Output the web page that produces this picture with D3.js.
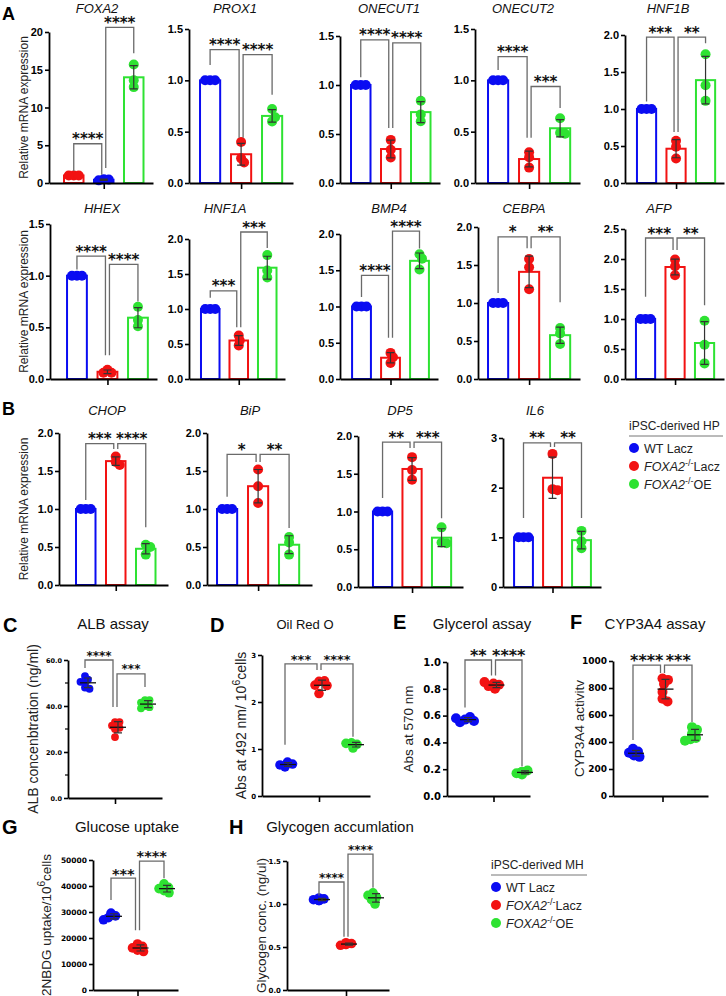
<!DOCTYPE html>
<html><head><meta charset="utf-8">
<script src="https://cdn.jsdelivr.net/npm/d3@7"></script>
<style>
body{margin:0;background:#fff;}
svg{display:block;font-family:"Liberation Sans",Arial,Helvetica,sans-serif;}
</style></head><body>
<svg id="c" width="726" height="996"></svg>
<script>
// ---------------- DATA ----------------
const groupNames = ["WT Lacz", "FOXA2-/-Lacz", "FOXA2-/-OE"];
const groupColors = ["#0a0cf2", "#f21212", "#2ee232"];

// panel A / B : relative mRNA expression, values per bar (3 replicates)
const FOXA2_expr   = [[1.0, 1.0, 1.0], [0.5, 0.45, 0.35], [15.7, 13.6, 12.7]];
const FOXA2_order  = [1, 0, 2];
const PROX1_expr   = [[1, 1, 1], [0.40, 0.24, 0.20], [0.72, 0.60, 0.64]];
const ONECUT1_expr = [[1, 1, 1], [0.44, 0.34, 0.26], [0.84, 0.70, 0.63]];
const ONECUT2_expr = [[1, 1, 1], [0.30, 0.25, 0.15], [0.63, 0.49, 0.48]];
const HNF1B_expr   = [[1, 1, 1], [0.57, 0.49, 0.33], [1.74, 1.32, 1.11]];
const HHEX_expr    = [[1, 1, 1], [0.09, 0.06, 0.06], [0.70, 0.57, 0.51]];
const HNF1A_expr   = [[1, 1, 1], [0.62, 0.48, 0.55], [1.77, 1.55, 1.45]];
const BMP4_expr    = [[1, 1, 1], [0.36, 0.30, 0.22], [1.72, 1.66, 1.51]];
const CEBPA_expr   = [[1, 1, 1], [1.58, 1.47, 1.18], [0.67, 0.60, 0.46]];
const AFP_expr     = [[1, 1, 1], [1.99, 1.88, 1.73], [0.97, 0.57, 0.26]];
const CHOP_expr    = [[1, 1, 1], [1.69, 1.62, 1.58], [0.53, 0.50, 0.40]];
const BiP_expr     = [[1, 1, 1], [1.52, 1.30, 1.08], [0.63, 0.56, 0.40]];
const DP5_expr     = [[1, 1, 1], [1.72, 1.55, 1.42], [0.79, 0.59, 0.58]];
const IL6_expr     = [[1, 1, 1], [2.68, 1.97, 1.95], [1.13, 0.92, 0.78]];

// y tick labels
const ticks_20  = [0, 5, 10, 15, 20];
const ticks_15  = [0, 0.5, 1.0, 1.5];
const ticks_20d = [0, 0.5, 1.0, 1.5, 2.0];
const ticks_25d = [0, 0.5, 1.0, 1.5, 2.0, 2.5];
const ticks_3   = [0, 1, 2, 3];

// significance: [from bar, to bar, label, bracket level, left leg end, right leg end] (data units)
const FOXA2_sig   = [[0, 1, "****", 5.2, 1.6, 1.1], [1, 2, "****", 20.6, 2.0, 17.2]];
const PROX1_sig   = [[0, 1, "****", 1.30, 1.15, 0.44], [1, 2, "****", 1.25, 0.44, 0.86]];
const ONECUT1_sig = [[0, 1, "****", 1.46, 1.08, 0.56], [1, 2, "****", 1.43, 0.56, 0.88]];
const ONECUT2_sig = [[0, 1, "****", 1.23, 1.10, 0.44], [1, 2, "***", 0.94, 0.44, 0.73]];
const HNF1B_sig   = [[0, 1, "***", 1.97, 1.10, 0.69], [1, 2, "**", 1.97, 0.69, 1.89]];
const HHEX_sig    = [[0, 1, "****", 1.19, 1.06, 0.23], [1, 2, "****", 1.11, 0.23, 0.75]];
const HNF1A_sig   = [[0, 1, "***", 1.26, 1.16, 0.74], [1, 2, "***", 2.10, 0.74, 1.87]];
const BMP4_sig    = [[0, 1, "****", 1.43, 1.13, 0.57], [1, 2, "****", 2.04, 0.57, 1.80]];
const CEBPA_sig   = [[0, 1, "*", 1.87, 1.13, 1.72], [1, 2, "**", 1.87, 1.72, 1.01]];
const AFP_sig     = [[0, 1, "***", 2.35, 1.37, 2.15], [1, 2, "**", 2.35, 2.15, 1.23]];
const CHOP_sig    = [[0, 1, "***", 1.86, 1.12, 1.79], [1, 2, "****", 1.86, 1.79, 0.76]];
const BiP_sig     = [[0, 1, "*", 1.72, 1.16, 1.62], [1, 2, "**", 1.72, 1.62, 0.75]];
const DP5_sig     = [[0, 1, "**", 1.92, 1.18, 1.84], [1, 2, "***", 1.92, 1.84, 0.91]];
const IL6_sig     = [[0, 1, "**", 2.90, 1.39, 2.82], [1, 2, "**", 2.90, 2.82, 1.39]];

// panels C-H : scatter values per group
const ALB_vals      = [[53, 51.5, 50, 48, 47.5, 50.5], [33, 33, 31.5, 30, 26.5, 30.5], [42.5, 42.5, 40, 39.5, 41.5, 39]];
const ALB_ticks     = [0, 20, 40, 60];
const ALB_minor     = [10, 30, 50];
const ALB_sig       = [[0, 1, "****", 60, 56.5, 39.6], [1, 2, "***", 54, 39.6, 48.3]];
const OilRed_vals   = [[0.62, 0.72, 0.66, 0.68], [2.44, 2.45, 2.36, 2.18, 2.35], [1.02, 1.10, 1.13, 1.12]];
const OilRed_ticks  = [0, 1, 2, 3];
const OilRed_sig    = [[0, 1, "***", 2.81, 1.09, 2.68], [1, 2, "****", 2.81, 2.68, 1.26]];
const Glycerol_vals = [[0.57, 0.59, 0.55, 0.56, 0.58], [0.84, 0.83, 0.80, 0.82, 0.85], [0.18, 0.19, 0.17, 0.18, 0.16]];
const Glycerol_ticks= [0, 0.2, 0.4, 0.6, 0.8, 1.0];
const Glycerol_sig  = [[0, 1, "**", 1.015, 0.66, 0.90], [1, 2, "****", 1.015, 0.90, 0.22]];
const CYP_vals      = [[350, 330, 320, 300, 290, 310], [870, 860, 830, 770, 720, 700], [510, 490, 460, 430, 420, 410]];
const CYP_ticks     = [0, 200, 400, 600, 800, 1000];
const CYP_sig       = [[0, 1, "****", 970, 415, 911], [1, 2, "***", 970, 911, 548]];
const Glucose_vals  = [[29600, 28500, 27800, 27000, 28800], [17700, 16800, 15300, 16200, 14800], [40800, 39500, 38200, 37400, 39000]];
const Glucose_ticks = [0, 10000, 20000, 30000, 40000, 50000];
const Glucose_sig   = [[0, 1, "***", 43000, 34600, 23000], [1, 2, "****", 49600, 23000, 43000]];
const Glycogen_vals = [[1.04, 1.06, 1.05, 1.07, 1.04], [0.53, 0.54, 0.52, 0.55, 0.53], [1.13, 1.08, 1.05, 1.00, 1.10]];
const Glycogen_ticks= [0, 0.5, 1.0, 1.5];
const Glycogen_sig  = [[0, 1, "****", 1.256, 1.10, 0.62], [1, 2, "****", 1.58, 0.62, 1.19]];

// ---------------- LAYOUT ----------------
const FONT = '"Liberation Sans", Arial, Helvetica, sans-serif';
const DJV = '"DejaVu Sans", sans-serif';
const svg = d3.select("#c");
const f1 = d3.format(".1f"), f0 = d3.format("d");

const barPanels = [
  {name:"FOXA2",   expr:FOXA2_expr,   sig:FOXA2_sig,   ticks:ticks_20,  fmt:f0, order:FOXA2_order, ax:49,  axEnd:153, r0:58.75, r1:148.75, yTop:32,  y0:183, tx:97,  ty:13},
  {name:"PROX1",   expr:PROX1_expr,   sig:PROX1_sig,   ticks:ticks_15,  fmt:f1, ax:189, axEnd:293, r0:194.6, r1:287.6, yTop:29,  y0:183, tx:235, ty:13},
  {name:"ONECUT1", expr:ONECUT1_expr, sig:ONECUT1_sig, ticks:ticks_15,  fmt:f1, ax:340, axEnd:440, r0:345.75,r1:435.75, yTop:36,  y0:183, tx:389, ty:13},
  {name:"ONECUT2", expr:ONECUT2_expr, sig:ONECUT2_sig, ticks:ticks_15,  fmt:f1, ax:475, axEnd:580, r0:482.6, r1:575.6, yTop:29,  y0:183, tx:523, ty:13},
  {name:"HNF1B",   expr:HNF1B_expr,   sig:HNF1B_sig,   ticks:ticks_20d, fmt:f1, ax:625, axEnd:724, r0:631.8, r1:720.3, yTop:35,  y0:183, tx:668, ty:13},
  {name:"HHEX",    expr:HHEX_expr,    sig:HHEX_sig,    ticks:ticks_15,  fmt:f1, ax:50,  axEnd:157, r0:61.7,  r1:153.2, yTop:224, y0:379, tx:102, ty:213},
  {name:"HNF1A",   expr:HNF1A_expr,   sig:HNF1A_sig,   ticks:ticks_20d, fmt:f1, ax:189, axEnd:285, r0:196,   r1:281.5, yTop:239, y0:379, tx:225, ty:213},
  {name:"BMP4",    expr:BMP4_expr,    sig:BMP4_sig,    ticks:ticks_20d, fmt:f1, ax:340, axEnd:438, r0:347,   r1:434,   yTop:234, y0:379, tx:389, ty:213},
  {name:"CEBPA",   expr:CEBPA_expr,   sig:CEBPA_sig,   ticks:ticks_20d, fmt:f1, ax:478, axEnd:580, r0:482.6, r1:575.6, yTop:227, y0:379, tx:524, ty:213},
  {name:"AFP",     expr:AFP_expr,     sig:AFP_sig,     ticks:ticks_25d, fmt:f1, ax:625, axEnd:724, r0:630.8, r1:719.3, yTop:229, y0:379, tx:659, ty:213},
  {name:"CHOP",    expr:CHOP_expr,    sig:CHOP_sig,    ticks:ticks_20d, fmt:f1, ax:59,  axEnd:168, r0:70.75, r1:160.75, yTop:433, y0:585, tx:107, ty:415},
  {name:"BiP",     expr:BiP_expr,     sig:BiP_sig,     ticks:ticks_20d, fmt:f1, ax:207, axEnd:312, r0:211.6, r1:304.6, yTop:433, y0:585, tx:250, ty:415},
  {name:"DP5",     expr:DP5_expr,     sig:DP5_sig,     ticks:ticks_20d, fmt:f1, ax:358, axEnd:463, r0:367.8, r1:456.3, yTop:436, y0:587, tx:400, ty:415},
  {name:"IL6",     expr:IL6_expr,     sig:IL6_sig,     ticks:ticks_3,   fmt:f0, ax:503, axEnd:601, r0:509,   r1:596,   yTop:438, y0:587, tx:535, ty:415},
];

const scatterPanels = [
  {title:"ALB assay", tsize:15, letter:"C", lx:3, ly:632, tx:113, ty:629, vals:ALB_vals, sig:ALB_sig, ticks:ALB_ticks, minor:ALB_minor, fmt:f1, tickFs:6.5, starFs:12, r:3.9,
   ax:68, axEnd:162, c0:85, c1:145, yTop:660, y0:798, ylab:[["ALB concenbtration (ng/ml)"]], ylx:38, lfs:14},
  {title:"Oil Red O", tsize:13, letter:"D", lx:210, ly:632, tx:305, ty:629, vals:OilRed_vals, sig:OilRed_sig, ticks:OilRed_ticks, fmt:f0, tickFs:7, starFs:13, r:4.8,
   ax:262, axEnd:370, c0:285, c1:353, yTop:655, y0:796, ylab:[["Abs at 492 nm/ 10"],["6","sup"],["cells"]], ylx:246, lfs:14},
  {title:"Glycerol assay", tsize:15, letter:"E", lx:393, ly:629, tx:482, ty:629, vals:Glycerol_vals, sig:Glycerol_sig, ticks:Glycerol_ticks, fmt:f1, tickFs:10, starFs:16, r:5,
   ax:447, axEnd:530, c0:465, c1:522, yTop:662, y0:796, ylab:[["Abs at 570 nm"]], ylx:413, lfs:13.5},
  {title:"CYP3A4 assay", tsize:15, letter:"F", lx:570, ly:629, tx:655, ty:629, vals:CYP_vals, sig:CYP_sig, ticks:CYP_ticks, fmt:f0, tickFs:9, starFs:16, r:5,
   ax:613, axEnd:708, c0:633, c1:692, yTop:661, y0:796, ylab:[["CYP3A4 activitv"]], ylx:584, lfs:13.5},
  {title:"Glucose uptake", tsize:15, letter:"G", lx:2, ly:834, tx:127, ty:832, vals:Glucose_vals, sig:Glucose_sig, ticks:Glucose_ticks, fmt:f0, tickFs:7.5, starFs:14.5, r:4.8,
   ax:93, axEnd:178, c0:111, c1:164, yTop:860, y0:990, ylab:[["2NBDG uptake/10"],["6","sup"],["cells"]], ylx:51, lfs:13.5},
  {title:"Glycogen accumlation", tsize:15, letter:"H", lx:229, ly:834, tx:340, ty:832, vals:Glycogen_vals, sig:Glycogen_sig, ticks:Glycogen_ticks, fmt:f1, tickFs:7, starFs:12, r:4.8,
   ax:287, axEnd:389, c0:319, c1:373, yTop:861, y0:990, ylab:[["Glycogen conc. (ng/ul)"]], ylx:266, lfs:13.5},
];

// ---------------- HELPERS ----------------
function swarm(vals, cx, y, minSep, maxOff) {
  const placed = [];
  return vals.map(v => {
    const py = y(v);
    const cands = [0];
    for (let s = 1; s <= 60; s++) cands.push(s * 0.5, -s * 0.5);
    let off = 0;
    for (const c of cands) {
      if (Math.abs(c) > maxOff) continue;
      if (placed.every(q => Math.hypot(q.x - (cx + c), q.y - py) >= minSep)) { off = c; break; }
    }
    const pt = {x: cx + off, y: py, v};
    placed.push(pt);
    return pt;
  });
}

function drawYAxis(g, y, p, fs, fontFamily, tsize) {
  const ax = g.append("g").attr("transform", `translate(${p.ax},0)`)
    .call(d3.axisLeft(y).tickValues(p.ticks).tickFormat(p.fmt).tickSize(tsize).tickSizeOuter(0).tickPadding(2));
  ax.select(".domain").attr("stroke", "#000").attr("stroke-width", 1.8);
  ax.selectAll(".tick line").attr("stroke", "#000").attr("stroke-width", 1.6);
  ax.selectAll(".tick text").attr("font-family", fontFamily).attr("font-weight", "bold")
    .attr("font-size", fs).attr("fill", "#000");
  return ax;
}

function drawXAxis(g, p, cx) {
  const xs = d3.scaleLinear().domain([p.ax, p.axEnd]).range([p.ax, p.axEnd]);
  const ax = g.append("g").attr("transform", `translate(0,${p.y0})`)
    .call(d3.axisBottom(xs).tickValues([cx]).tickFormat("").tickSize(6).tickSizeOuter(0));
  ax.select(".domain").attr("stroke", "#000").attr("stroke-width", 1.8);
  ax.selectAll(".tick line").attr("stroke", "#000").attr("stroke-width", 1.6);
}

function drawSig(g, sig, xc, y, fs) {
  sig.forEach(s => {
    const [a, b, lab, lev, la, lb] = s;
    const xa = xc(a) + (a === 1 ? 2 : 0);
    const xb = xc(b) - (b === 1 ? 2 : 0);
    const yl = y(lev);
    g.append("path")
      .attr("d", `M${xa},${y(la)}V${yl}H${xb}V${y(lb)}`)
      .attr("fill", "none").attr("stroke", "#6a6a6a").attr("stroke-width", 1.3);
    g.append("text").attr("x", (xa + xb) / 2).attr("y", yl + fs * 0.3 - 4)
      .attr("text-anchor", "middle").attr("font-family", DJV)
      .attr("font-weight", "bold").attr("font-size", fs).attr("fill", "#111").text(lab);
  });
}

function errBar(g, cx, y, m, sd, cw, color) {
  if (!(sd > 0)) return;
  g.append("path")
    .attr("d", `M${cx},${y(m - sd)}V${y(m + sd)}M${cx - cw / 2},${y(m + sd)}H${cx + cw / 2}M${cx - cw / 2},${y(m - sd)}H${cx + cw / 2}`)
    .attr("fill", "none").attr("stroke", color).attr("stroke-width", 1.2);
}

// ---------------- BAR PANELS ----------------
barPanels.forEach(p => {
  const g = svg.append("g");
  const order = p.order || [0, 1, 2];
  const x = d3.scaleBand().domain([0, 1, 2]).range([p.r0, p.r1]).paddingInner(0.35).paddingOuter(0.175);
  const y = d3.scaleLinear().domain([0, d3.max(p.ticks)]).range([p.y0, p.yTop]);
  const bw = x.bandwidth();
  const xc = i => x(i) + bw / 2;

  p.expr.forEach((vals, i) => {
    const m = d3.mean(vals), col = groupColors[order[i]];
    g.append("rect").attr("x", x(i)).attr("y", y(m)).attr("width", bw).attr("height", p.y0 - y(m))
      .attr("fill", "#fff").attr("stroke", col).attr("stroke-width", 2);
  });
  p.expr.forEach((vals, i) => {
    const col = groupColors[order[i]];
    const pts = swarm(vals, xc(i), y, 5, 6);
    g.selectAll(null).data(pts).join("circle")
      .attr("cx", d => d.x).attr("cy", d => d.y).attr("r", 5).attr("fill", col);
  });
  p.expr.forEach((vals, i) => {
    errBar(g, xc(i), y, d3.mean(vals), d3.deviation(vals), 8, "#333");
  });

  drawYAxis(g, y, p, 11, FONT, 4);
  drawXAxis(g, p, xc(1));
  drawSig(g, p.sig, xc, y, 15);

  g.append("text").attr("x", p.tx).attr("y", p.ty).attr("text-anchor", "middle")
    .attr("font-style", "italic").attr("font-size", 13).attr("fill", "#111").text(p.name);
});

// row y labels
[[107.5], [301.5], [509]].forEach(([cy]) => {
  svg.append("text").attr("transform", `translate(28,${cy}) rotate(-90)`)
    .attr("text-anchor", "middle").attr("font-size", 12).attr("fill", "#222")
    .text("Relative mRNA expression");
});

[["A", 2, 20, 18], ["B", 2, 415, 18]].forEach(([t, lx, ly, fs]) => {
  svg.append("text").attr("x", lx).attr("y", ly).attr("font-weight", "bold").attr("font-size", fs).text(t);
});

// ---------------- SCATTER PANELS ----------------
scatterPanels.forEach(p => {
  const g = svg.append("g");
  const x = d3.scalePoint().domain([0, 1, 2]).range([p.c0, p.c1]);
  const y = d3.scaleLinear().domain([0, d3.max(p.ticks)]).range([p.y0, p.yTop]);
  const xc = i => x(i);

  p.vals.forEach((vals, i) => {
    const pts = swarm(vals, xc(i), y, p.r * 1.1, 9);
    g.selectAll(null).data(pts).join("circle")
      .attr("cx", d => d.x).attr("cy", d => d.y).attr("r", p.r).attr("fill", groupColors[i]);
  });
  p.vals.forEach((vals, i) => {
    const m = d3.mean(vals), sd = d3.deviation(vals), cx = xc(i) + 3;
    g.append("line").attr("x1", cx - 8).attr("x2", cx + 8).attr("y1", y(m)).attr("y2", y(m))
      .attr("stroke", "#111").attr("stroke-width", 1.3);
    errBar(g, cx, y, m, sd, 8, "#333");
  });

  drawYAxis(g, y, p, p.tickFs, DJV, 4);
  if (p.minor) {
    g.selectAll(null).data(p.minor).join("line")
      .attr("x1", p.ax - 3).attr("x2", p.ax).attr("y1", d => y(d)).attr("y2", d => y(d))
      .attr("stroke", "#000").attr("stroke-width", 1.2);
  }
  drawXAxis(g, p, xc(1));
  drawSig(g, p.sig, xc, y, p.starFs);

  g.append("text").attr("x", p.tx).attr("y", p.ty).attr("text-anchor", "middle")
    .attr("font-size", p.tsize).attr("fill", "#111").text(p.title);
  g.append("text").attr("x", p.lx).attr("y", p.ly).attr("font-weight", "bold").attr("font-size", 20).text(p.letter);

  const yl = g.append("text").attr("transform", `translate(${p.ylx},${(p.y0 + p.yTop) / 2}) rotate(-90)`)
    .attr("text-anchor", "middle").attr("font-size", p.lfs).attr("fill", "#222");
  let shifted = false;
  p.ylab.forEach(([t, kind]) => {
    const ts = yl.append("tspan").text(t);
    if (kind === "sup") { ts.attr("dy", -6).attr("font-size", p.lfs * 0.75); shifted = true; }
    else if (shifted) { ts.attr("dy", 6); shifted = false; }
  });
});

// ---------------- LEGENDS ----------------
function legend(title, lx, ty, lineW) {
  const g = svg.append("g");
  g.append("text").attr("x", lx).attr("y", ty).attr("font-size", 12).attr("fill", "#222").text(title);
  g.append("line").attr("x1", lx).attr("x2", lx + lineW).attr("y1", ty + 6).attr("y2", ty + 6)
    .attr("stroke", "#777").attr("stroke-width", 1);
  groupNames.forEach((nm, i) => {
    const cy = ty + 18 + i * 18;
    g.append("circle").attr("cx", lx + 5).attr("cy", cy).attr("r", 5).attr("fill", groupColors[i]);
    const t = g.append("text").attr("x", lx + 15).attr("y", cy + 4.5).attr("font-size", 12.5).attr("fill", "#222");
    if (i === 0) t.text(nm);
    else {
      const rest = nm.replace("FOXA2-/-", "");
      t.append("tspan").attr("font-style", "italic").text("FOXA2");
      t.append("tspan").attr("dy", -5).attr("font-size", 9).text("-/-");
      t.append("tspan").attr("dy", 5).text(rest);
    }
  });
}
legend("iPSC-derived HP", 629, 430, 94);
legend("iPSC-derived MH", 491, 869, 96);
</script>
</body></html>
